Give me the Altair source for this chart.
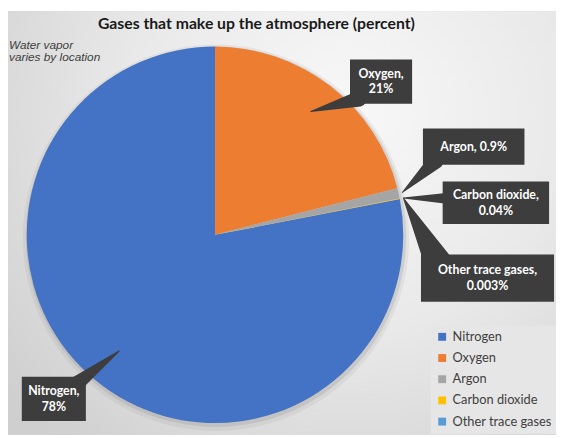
import math
import altair as alt
import pandas as pd

# ---------------- data ----------------
gases = ["Nitrogen", "Oxygen", "Argon", "Carbon dioxide", "Other trace gases"]
percent = [78, 21, 0.9, 0.04, 0.003]
colors = ["#4472C4", "#ED7D31", "#A5A5A5", "#FFC000", "#5B9BD5"]
title_text = "Gases that make up the atmosphere (percent)"
note_lines = ["Water vapor", "varies by location"]

# ---------------- layout (chart pixel coords) ----------------
W, H = 556, 430
CX, CY, R = 210, 227, 191
FONT = "Lato"
BOX = "#3d3d3d"
# callout boxes: x, y, w, h
boxes = [(14, 371, 65, 45), (347, 49, 63, 45), (421, 119, 103, 37),
         (441, 173, 108, 43), (419, 247, 135, 48)]
# pointer anchor inside box: x, y, base width
anchors = [(62, 384, 18), (356, 89, 16), (434, 152, 16), (449, 190, 12), (439, 260, 30)]
tip_r = [0.80, 0.83, 1.02, 1.02, 1.02]
one_line = [False, False, True, False, False]

total = sum(percent)
frac = [p / total for p in percent]
start = 2 * math.pi * (1 - frac[0])  # Nitrogen first, Oxygen begins at 12 o'clock

pie_df = pd.DataFrame({"gas": gases, "value": percent, "idx": list(range(len(gases)))})

# slice mid angles from the data
mids = []
acc = start
for f in frac:
    mids.append(acc + math.pi * f)
    acc += 2 * math.pi * f

trail_rows, rect_rows, text_rows = [], [], []
for i, g in enumerate(gases):
    bx, by, bw, bh = boxes[i]
    ax, ay, aw = anchors[i]
    th = mids[i]
    tx = CX + R * tip_r[i] * math.sin(th)
    ty = CY - R * tip_r[i] * math.cos(th)
    trail_rows.append({"k": g, "ord": 0, "px": ax, "py": ay, "w": aw})
    trail_rows.append({"k": g, "ord": 1, "px": tx, "py": ty, "w": 0})
    rect_rows.append({"x": bx, "x2": bx + bw, "y": by, "y2": by + bh})
    pct = f"{percent[i]:g}%"
    cxb, cyb = bx + bw / 2, by + bh / 2
    if one_line[i]:
        text_rows.append({"x": cxb, "y": cyb, "t": f"{g}, {pct}"})
    else:
        text_rows.append({"x": cxb, "y": cyb - 8, "t": f"{g},"})
        text_rows.append({"x": cxb, "y": cyb + 8, "t": pct})

trail_df = pd.DataFrame(trail_rows)
rect_df = pd.DataFrame(rect_rows)
text_df = pd.DataFrame(text_rows)
one = pd.DataFrame({"a": [0]})

px = lambda f: alt.X(f, scale=None, axis=None)
py = lambda f: alt.Y(f, scale=None, axis=None)

bg = alt.Chart(one).mark_rect(
    fill={
        "gradient": "radial",
        "x1": 0.62, "y1": 0.3, "r1": 0.0,
        "x2": 0.62, "y2": 0.3, "r2": 0.8,
        "stops": [
            {"offset": 0, "color": "#f8f8f8"},
            {"offset": 0.5, "color": "#e9e9e9"},
            {"offset": 1, "color": "#cfcfcf"},
        ],
    }
).encode(x=alt.value(0), x2=alt.value(W), y=alt.value(0), y2=alt.value(H))

shadow1 = alt.Chart(one).mark_arc(radius=R + 5, theta=0, theta2=2 * math.pi,
                                  color="#8a8a8a", opacity=0.12).encode(
    x=alt.value(CX + 1), y=alt.value(CY + 3))
shadow2 = alt.Chart(one).mark_arc(radius=R + 2, theta=0, theta2=2 * math.pi,
                                  color="#8a8a8a", opacity=0.22).encode(
    x=alt.value(CX + 1), y=alt.value(CY + 2))

pie = alt.Chart(pie_df).mark_arc(radius=R).encode(
    theta=alt.Theta("value:Q", stack=True,
                    scale=alt.Scale(range=[start, start + 2 * math.pi])),
    color=alt.Color("gas:N", scale=alt.Scale(domain=gases, range=colors),
                    legend=alt.Legend(orient="none", legendX=429, legendY=319,
                                      title=None, fillColor="#e6e6e6", padding=5,
                                      symbolType="square", symbolSize=64,
                                      symbolStrokeWidth=0, labelFont=FONT,
                                      labelFontSize=13, labelColor="#404040",
                                      rowPadding=7.5, labelOffset=4, labelLimit=300)),
    order=alt.Order("idx:Q"),
    x=alt.value(CX), y=alt.value(CY),
)

pointers = alt.Chart(trail_df).mark_trail(color=BOX).encode(
    x=px("px:Q"), y=py("py:Q"), size=alt.Size("w:Q", scale=None, legend=None),
    detail="k:N", order=alt.Order("ord:Q"))

rects = alt.Chart(rect_df).mark_rect(color=BOX).encode(
    x=px("x:Q"), x2="x2:Q", y=py("y:Q"), y2="y2:Q")

texts = alt.Chart(text_df).mark_text(font=FONT, fontSize=12.5, fontWeight="bold",
                                     color="white", baseline="middle",
                                     align="center").encode(
    x=px("x:Q"), y=py("y:Q"), text="t:N")

title = alt.Chart(one).mark_text(text=title_text, font=FONT, fontSize=16,
                                 fontWeight="bold", color="#1a1a1a",
                                 baseline="alphabetic", align="center").encode(
    x=alt.value(252), y=alt.value(18))

note_df = pd.DataFrame({"t": note_lines, "y": [38, 51]})
note = alt.Chart(note_df).mark_text(font="Liberation Sans", fontSize=12,
                                    fontStyle="italic", color="#404040",
                                    baseline="alphabetic", align="left").encode(
    x=alt.value(1), y=py("y:Q"), text="t:N")

chart = alt.layer(bg, shadow1, shadow2, pie, pointers, rects, texts, title, note).properties(
    width=W, height=H, padding=0, autosize="none"
).configure_view(stroke=None)

chart.save("out.html", embed_options={"renderer": "svg", "actions": False})
